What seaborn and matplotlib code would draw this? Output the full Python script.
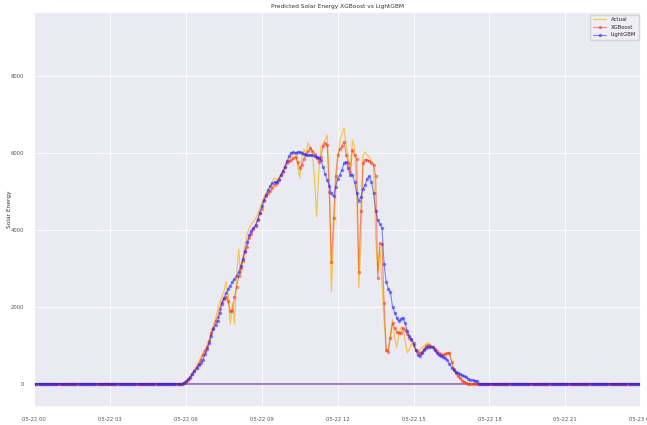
import numpy as np
import pandas as pd
import matplotlib
matplotlib.use("Agg")
import matplotlib.pyplot as plt
import matplotlib.dates as mdates
import seaborn as sns

# 5-minute timestamps for 2023-05-22
times = pd.date_range("2023-05-22 00:00", periods=288, freq="5min")

# Night values (00:00-05:45 and 17:50-23:55) are zero
night_before = [0] * 70
night_after = [0] * 74

# Daytime values 05:50 .. 17:45 (144 points)
actual_day = [
    0, 20, 60, 120, 190, 270, 360, 460, 560, 680, 800, 880, 1000, 1150, 1380, 1500,
    1700, 1900, 2100, 2250, 2400, 2650, 2300, 1550, 2100, 1550, 2800, 3500, 2800, 3300,
    3600, 3900, 4050, 4150, 4220, 4300, 4400, 4550, 4700, 4850, 4950, 5050, 5150, 5250,
    5350, 5300, 5350, 5450, 5550, 5700, 5800, 5850, 5900, 5950, 6000, 5650, 5350, 5900,
    6100, 6000, 6260, 6150, 6000, 5300, 4340, 5500, 6160, 6250, 6340, 6470, 5300, 2390,
    3800, 5000, 5800, 6300, 6500, 6650, 6200, 5900, 5600, 6340, 6150, 5000, 2500, 3600,
    5950, 6030, 5950, 5900, 5800, 5700, 3820, 2880, 3560, 2600, 1660, 830, 900, 1300,
    1660, 1200, 935, 1300, 1480, 1420, 1100, 800, 900, 1050, 980, 880, 850, 880,
    950, 980, 1030, 1070, 1000, 950, 870, 800, 760, 740, 720, 760, 800, 820,
    600, 400, 300, 220, 150, 100, 60, 30, 0, 0, 0, 0, 0, 0, 0, 0,
]
xgb_day = [
    0, 15, 50, 100, 160, 240, 330, 420, 520, 620, 740, 860, 950, 1100, 1330, 1460,
    1620, 1740, 1950, 2130, 2210, 2260, 2140, 1900, 1880, 2250, 2520, 2790, 3000, 3180,
    3420, 3560, 3800, 3900, 4020, 4100, 4280, 4450, 4550, 4760, 4880, 4950, 5020, 5100,
    5180, 5230, 5330, 5430, 5500, 5640, 5750, 5790, 5820, 5860, 5900, 5760, 5600, 5700,
    5850, 5980, 6050, 6130, 6060, 5980, 5880, 5760, 5900, 6180, 6250, 6200, 4990, 3170,
    4310, 5400, 5950, 6100, 6180, 6290, 5950, 5750, 5510, 6080, 5950, 5850, 2910, 4500,
    5750, 5830, 5820, 5790, 5750, 5700, 5400, 2750, 3650, 3620, 2100, 880, 830, 1200,
    1580, 1450, 1340, 1330, 1330, 1450, 1400, 1300, 1200, 1130, 1000, 880, 820, 790,
    830, 900, 980, 1010, 990, 960, 900, 840, 790, 760, 750, 770, 800, 790,
    560, 370, 280, 200, 140, 80, 45, 20, 0, 0, 0, 0, 0, 0, 0, 0,
]
lgbm_day = [
    0, 20, 60, 110, 170, 260, 330, 400, 480, 550, 620, 760, 890, 1050, 1250, 1420,
    1530, 1640, 1830, 2070, 2240, 2360, 2450, 2550, 2650, 2720, 2810, 2900, 3070, 3240,
    3460, 3680, 3860, 3980, 4050, 4130, 4250, 4440, 4620, 4790, 4920, 5040, 5130, 5210,
    5240, 5240, 5290, 5420, 5530, 5630, 5800, 5920, 6010, 6020, 6000, 6030, 6020, 6000,
    5970, 5950, 5950, 5950, 5950, 5910, 5890, 5880, 5820, 5640, 5450, 5300, 5150, 4950,
    4870, 5120, 5330, 5430, 5560, 5740, 5770, 5600, 5430, 5430, 5250, 4950, 4760, 4850,
    5060, 5170, 5330, 5400, 5250, 4950, 4500, 4250, 4150, 4060, 3100, 2650, 2470, 2380,
    2000, 1850, 1720, 1620, 1690, 1720, 1570, 1370, 1240, 1170, 1050, 880, 740, 730,
    790, 870, 940, 960, 960, 960, 870, 800, 750, 720, 700, 660, 620, 520,
    420, 360, 310, 280, 240, 220, 190, 170, 130, 100, 90, 80, 70, 0, 0, 0,
]

actual = night_before + actual_day + night_after
xgb = night_before + xgb_day + night_after
lgbm = night_before + lgbm_day + night_after

df = pd.DataFrame({"time": times, "Actual": actual, "XGBoost": xgb, "LightGBM": lgbm})

sns.set_theme(style="darkgrid", rc={"grid.linewidth": 0.6})
plt.rcParams["font.family"] = ["DejaVu Sans"]

fig = plt.figure(figsize=(6.47, 4.25), dpi=100)
ax = fig.add_axes([0.053, 0.043, 0.938, 0.929])

sns.lineplot(data=df, x="time", y="Actual", ax=ax, color="#f2b705", alpha=0.7,
             linewidth=0.85, label="Actual")
sns.lineplot(data=df, x="time", y="XGBoost", ax=ax, color="#ff2a00", alpha=0.5,
             linewidth=0.8, marker="o", markersize=2.5, markeredgewidth=0, label="XGBoost")
sns.lineplot(data=df, x="time", y="LightGBM", ax=ax, color="#1a1aff", alpha=0.5,
             linewidth=0.8, marker="o", markersize=2.5, markeredgewidth=0, label="LightGBM")
ax.axhline(0, color="#7a3fb0", linewidth=1.1, alpha=0.85, zorder=1)

ax.set_xlim(pd.Timestamp("2023-05-22 00:00"), pd.Timestamp("2023-05-23 00:00"))
ax.set_ylim(-600, 9670)
ax.set_yticks([0, 2000, 4000, 6000, 8000])
ax.xaxis.set_major_locator(mdates.HourLocator(interval=3))
ax.xaxis.set_major_formatter(mdates.DateFormatter("%m-%d %H"))
ax.tick_params(axis="both", labelsize=3.8, pad=1.5, colors="#555555")
ax.set_xlabel("")
ax.set_ylabel("Solar Energy", fontsize=4.2, color="#333333")
ax.yaxis.set_label_coords(-0.036, 0.5)
ax.set_title("Predicted Solar Energy XGBoost vs LightGBM", fontsize=4.2, pad=3, color="#333333")
leg = ax.legend(loc="upper right", fontsize=3.8, frameon=True, markerscale=1.0,
                handlelength=2.5, borderpad=0.5)
leg.get_frame().set_facecolor("#f0f0f5")

fig.savefig("out.png", dpi=100)
